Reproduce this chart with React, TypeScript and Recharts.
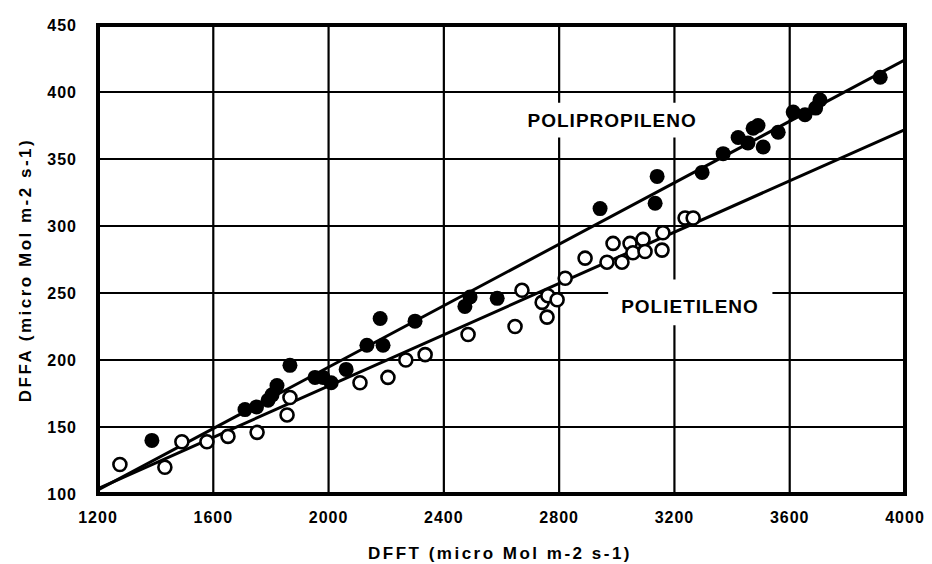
import React from 'react';
import {
  ScatterChart,
  Scatter,
  XAxis,
  YAxis,
  CartesianGrid,
  ReferenceArea,
  ReferenceDot,
} from 'recharts';

const X_TICKS = [1200, 1600, 2000, 2400, 2800, 3200, 3600, 4000];
const Y_TICKS = [100, 150, 200, 250, 300, 350, 400, 450];

// Polipropileno (filled circles)
const ppDfft = [
  1387, 1710, 1750, 1790, 1804, 1821, 1866, 1953, 1981, 2009, 2061, 2133, 2179, 2189, 2300,
  2473, 2491, 2585, 2942, 3133, 3140, 3296, 3369, 3421, 3455, 3473, 3490, 3508, 3560, 3612,
  3653, 3690, 3705, 3914,
];
const ppDffa = [
  140, 163, 165, 170, 174, 181, 196, 187, 187, 183, 193, 211, 231, 211, 229,
  240, 247, 246, 313, 317, 337, 340, 354, 366, 362, 373, 375, 359, 370, 385,
  383, 388, 394, 411,
];

// Polietileno (open circles)
const peDfft = [
  1276, 1432, 1491, 1578, 1651, 1752, 1856, 1866, 2109, 2206, 2268, 2335, 2484, 2647, 2671,
  2741, 2758, 2761, 2793, 2821, 2890, 2966, 2987, 3018, 3046, 3056, 3091, 3098, 3157, 3160,
  3237, 3265,
];
const peDffa = [
  122, 120, 139, 139, 143, 146, 159, 172, 183, 187, 200, 204, 219, 225, 252,
  243, 232, 248, 245, 261, 276, 273, 287, 273, 287, 280, 290, 281, 282, 295,
  306, 306,
];

// fitted lines (end points)
const ppFitX = [1200, 4000];
const ppFitY = [103, 424];
const peFitX = [1200, 4000];
const peFitY = [104, 372];

const toPts = (xs: number[], ys: number[]) => xs.map((x, i) => ({ x, y: ys[i] }));

const ppData = toPts(ppDfft, ppDffa);
const peData = toPts(peDfft, peDffa);
const ppFit = toPts(ppFitX, ppFitY);
const peFit = toPts(peFitX, peFitY);

const FONT = '"Liberation Sans", Arial, sans-serif';

const tickStyle = { fill: '#000', fontSize: 16, fontWeight: 700, fontFamily: FONT, letterSpacing: 1 };
const titleStyle = { fill: '#000', fontSize: 17, fontWeight: 700, fontFamily: FONT, letterSpacing: 2.5 };

const Filled = (p: any) => <circle cx={p.cx} cy={p.cy} r={7.5} fill="#000" />;
const Open = (p: any) => (
  <circle cx={p.cx} cy={p.cy} r={6.5} fill="#fff" stroke="#000" strokeWidth={2.6} />
);
const NoDot = () => <g />;

const XTitle = () => (
  <text x={500} y={553} textAnchor="middle" dominantBaseline="central" {...titleStyle}>
    DFFT (micro Mol m-2 s-1)
  </text>
);

const YTitle = () => (
  <text
    x={25}
    y={270}
    transform="rotate(-90 25 270)"
    textAnchor="middle"
    dominantBaseline="central"
    {...titleStyle}
  >
    DFFA (micro Mol m-2 s-1)
  </text>
);

export default function App() {
  return (
    <div style={{ position: 'absolute', left: 0, top: 0, background: '#fff' }}>
      <ScatterChart
        width={932}
        height={564}
        margin={{ top: 25, right: 27, bottom: 0, left: 0 }}
        style={{ fontFamily: FONT }}
      >
        <CartesianGrid stroke="#000" strokeWidth={2.2} />
        <XAxis
          type="number"
          dataKey="x"
          domain={[1200, 4000]}
          ticks={X_TICKS}
          allowDataOverflow
          axisLine={false}
          tickLine={false}
          tickSize={0}
          tickMargin={18}
          height={70}
          tick={tickStyle}
          label={{ content: XTitle }}
        />
        <YAxis
          type="number"
          dataKey="y"
          domain={[100, 450]}
          ticks={Y_TICKS}
          allowDataOverflow
          axisLine={false}
          tickLine={false}
          tickSize={0}
          tickMargin={21}
          width={98}
          tick={tickStyle}
          label={{ content: YTitle }}
        />
        <ReferenceArea x1={2647} x2={3324} y1={366} y2={392} fill="#fff" fillOpacity={1} stroke="none" />
        <ReferenceArea x1={2970} x2={3540} y1={226} y2={260} fill="#fff" fillOpacity={1} stroke="none" />
        <ReferenceArea
          x1={1200}
          x2={4000}
          y1={100}
          y2={450}
          fill="none"
          stroke="#000"
          strokeWidth={4}
        />
        <Scatter data={ppFit} line={{ stroke: '#000', strokeWidth: 3 }} shape={NoDot} isAnimationActive={false} />
        <Scatter data={peFit} line={{ stroke: '#000', strokeWidth: 3 }} shape={NoDot} isAnimationActive={false} />
        <Scatter data={peData} shape={Open} isAnimationActive={false} />
        <Scatter data={ppData} shape={Filled} isAnimationActive={false} />
        <ReferenceDot
          x={2984}
          y={379}
          r={0}
          label={{ value: 'POLIPROPILENO', position: 'center', fill: '#000', fontSize: 19, fontWeight: 700, letterSpacing: 1 }}
        />
        <ReferenceDot
          x={3254}
          y={240}
          r={0}
          label={{ value: 'POLIETILENO', position: 'center', fill: '#000', fontSize: 19, fontWeight: 700, letterSpacing: 1 }}
        />
      </ScatterChart>
    </div>
  );
}
